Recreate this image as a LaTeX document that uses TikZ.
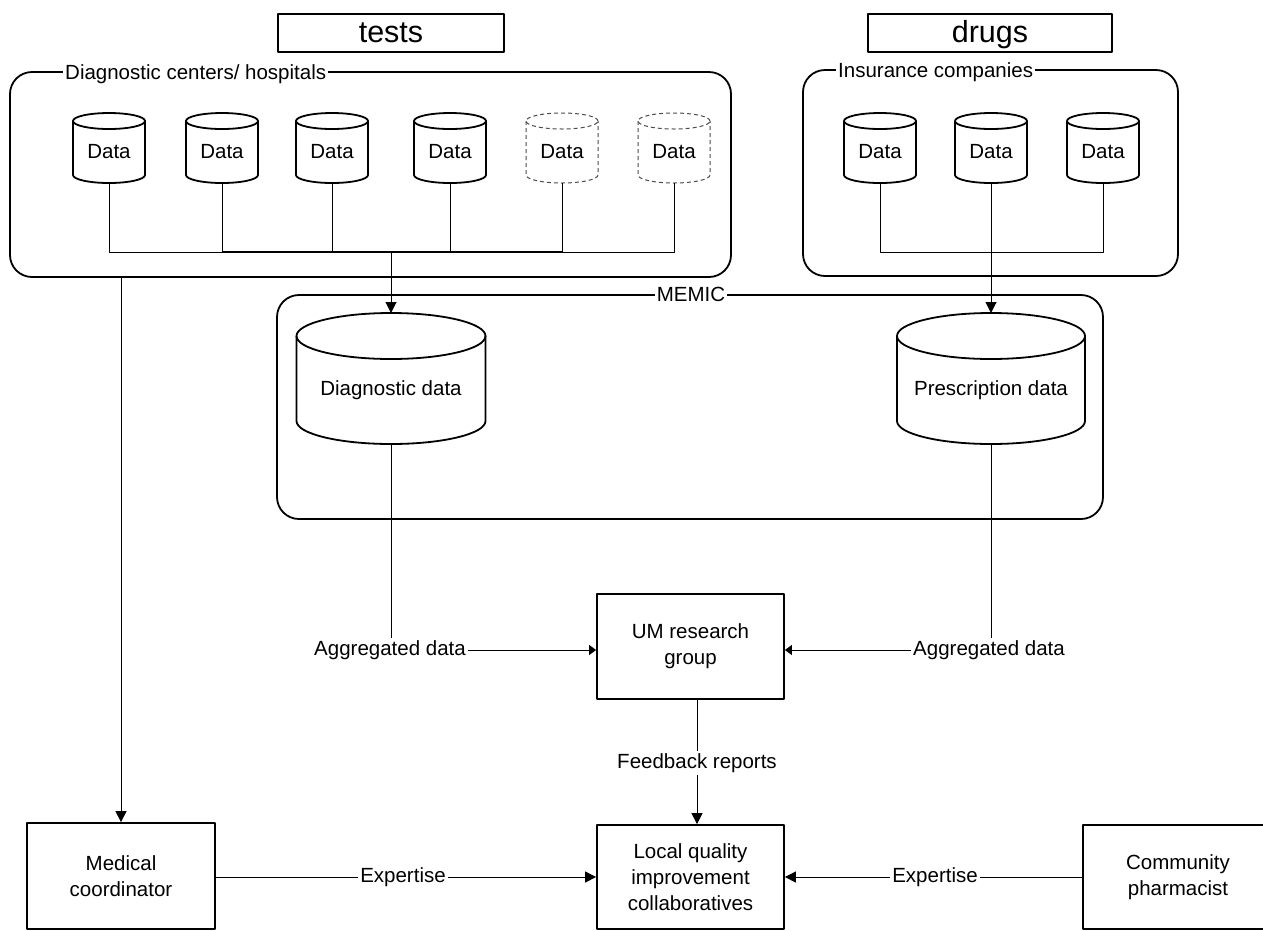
\documentclass[tikz,border=0pt]{standalone}
\usepackage{fontspec}
\setmainfont{Liberation Sans}
\usetikzlibrary{arrows.meta}
\newcommand\ftxt{\fontsize{20.5}{26}\selectfont}
\newcommand\fbig{\fontsize{30.5}{36}\selectfont}
\newcommand\dbcyl[8]{%
  \draw[#7] (#2,{#3+#6}) ellipse [x radius=#5pt, y radius=#6pt];
  \draw[#7] ({#2-#5},{#3+#6}) -- ({#2-#5},{#4-#6}) arc[start angle=180,end angle=360,x radius=#5pt,y radius=#6pt] -- ({#2+#5},{#3+#6});
  \coordinate (#1-t) at (#2,#3);
  \coordinate (#1-b) at (#2,#4);
  \node[txt] (#1) at (#2,{(#3+#4+#6)/2}) {#8};
}
\tikzset{
  container/.style={draw, line width=1.8pt, rounded corners=22pt, inner sep=0pt},
  box/.style={draw, line width=1.8pt, align=center, inner sep=0pt, font=\ftxt},
  txt/.style={font=\ftxt, inner sep=2pt, align=center},
  lbl/.style={font=\ftxt, fill=white, inner sep=2pt},
  conn/.style={line width=1pt},
  arr/.style={conn, -{Triangle[length=11pt,width=11pt]}},
  arrs/.style={conn, -{Triangle[length=7pt,width=10pt]}},
  solidcyl/.style={line width=1.8pt},
  dashcyl/.style={line width=1pt, draw=black!70, dash pattern=on 4pt off 3pt},
}
\begin{document}
\begin{tikzpicture}[x=1pt, y=-1pt, line join=round]
\useasboundingbox (0,0) rectangle (1263,930);
\clip (0,0) rectangle (1263,930);
\fill[white] (0,0) rectangle (1263,930);

% header boxes
\node[box, font=\fbig, minimum width=226pt, minimum height=38pt, text height=24pt, text depth=5pt] (tests) at (391,33) {tests};
\node[box, font=\fbig, minimum width=244pt, minimum height=38pt, text height=24pt, text depth=5pt] (drugs) at (990,33) {drugs};

% containers
\node[container, minimum width=721pt, minimum height=205pt] (diag) at (370.5,174.5) {};
\node[lbl, anchor=base west] (diaglbl) at (63,79) {Diagnostic centers/ hospitals};
\node[container, minimum width=375pt, minimum height=206pt] (ins) at (990.5,173) {};
\node[lbl, anchor=base west] (inslbl) at (836,77) {Insurance companies};
\node[container, minimum width=826pt, minimum height=224pt] (memic) at (690,407) {};
\node[lbl, anchor=base] (memiclbl) at (691,301) {MEMIC};

% small data cylinders
\dbcyl{d1}{109}{113}{183}{36}{8}{solidcyl}{Data}
\dbcyl{d2}{222}{113}{183}{36}{8}{solidcyl}{Data}
\dbcyl{d3}{332}{113}{183}{36}{8}{solidcyl}{Data}
\dbcyl{d4}{450}{113}{183}{36}{8}{solidcyl}{Data}
\dbcyl{d5}{562}{113}{183}{36}{8}{dashcyl}{Data}
\dbcyl{d6}{674}{113}{183}{36}{8}{dashcyl}{Data}
\dbcyl{i1}{880}{113}{183}{36}{8}{solidcyl}{Data}
\dbcyl{i2}{991}{113}{183}{36}{8}{solidcyl}{Data}
\dbcyl{i3}{1103}{113}{183}{36}{8}{solidcyl}{Data}

% big cylinders
\dbcyl{dd}{391}{313}{444}{94.5}{23}{solidcyl}{Diagnostic data}
\dbcyl{pd}{991}{313}{444}{94}{23}{solidcyl}{Prescription data}

% buses
\coordinate (dbus) at (391,252);
\coordinate (ibus) at (991,252);
\draw[conn] (d1-b) -- (d1-b |- dbus) -- (d2-b |- dbus);
\draw[line width=1.6pt] (d2-b |- dbus) -- (d5-b |- dbus);
\draw[conn] (d5-b |- dbus) -- (d6-b |- dbus) -- (d6-b);
\foreach \n in {d2,d3,d4,d5} \draw[conn] (\n-b) -- (\n-b |- dbus);
\draw[arr] (dbus) -- (dd-t);
\draw[conn] (i1-b) -- (i1-b |- ibus) -- (i3-b |- ibus) -- (i3-b);
\draw[arr] (i2-b) -- (pd-t);

% UM research group
\node[box, minimum width=187pt, minimum height=105pt] (um) at (690.5,646.5) {UM research\\group};
\node[txt] (agg1) at (390,650) {Aggregated data};
\node[txt] (agg2) at (989,650) {Aggregated data};
\draw[conn] (dd-b) -- (dd-b |- agg1.north);
\draw[conn] (pd-b) -- (pd-b |- agg2.north);
\draw[arrs] (agg1.east) -- (agg1.east -| um.west);
\draw[arrs] (agg2.west) -- (agg2.west -| um.east);

% bottom row
\node[box, minimum width=188pt, minimum height=106pt] (med) at (121,876) {Medical\\coordinator};
\node[box, minimum width=187pt, minimum height=104pt] (loc) at (690.5,877) {Local quality\\improvement\\collaboratives};
\node[box, minimum width=190pt, minimum height=104pt] (com) at (1178,877) {Community\\pharmacist};

\node[txt] (fb) at (697,763) {Feedback reports};
\draw[conn] (fb.north |- um.south) -- (fb.north);
\draw[arr] (fb.south) -- (fb.south |- loc.north);

\draw[arr] (med.north |- diag.south) -- (med.north);

\node[txt] (ex1) at (403,877) {Expertise};
\node[txt] (ex2) at (935,877) {Expertise};
\draw[conn] (med.east |- ex1.west) -- (ex1.west);
\draw[arr] (ex1.east) -- (ex1.east -| loc.west);
\draw[conn] (com.west |- ex2.east) -- (ex2.east);
\draw[arr] (ex2.west) -- (ex2.west -| loc.east);
\end{tikzpicture}
\end{document}
